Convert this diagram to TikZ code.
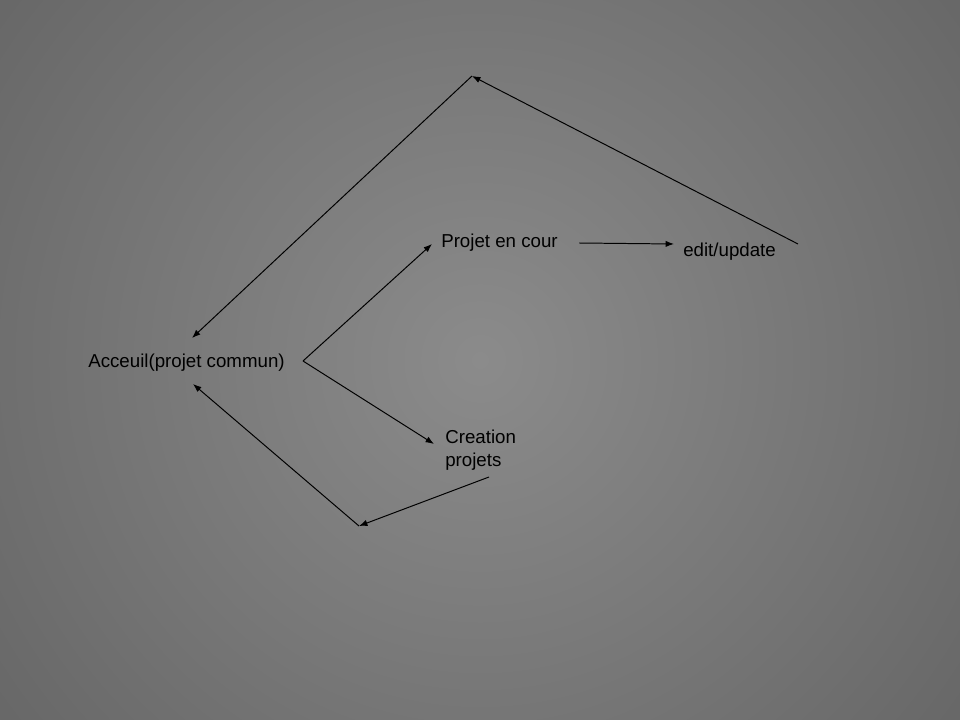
\documentclass[tikz,border=0pt]{standalone}
\usepackage{fontspec}
\setmainfont{Liberation Sans}
\usetikzlibrary{arrows.meta,positioning}
\definecolor{bg_inner}{HTML}{8B8B8B}
\definecolor{bg_outer}{HTML}{444444}
\pgfdeclareradialshading{bg_radial}{\pgfpoint{0bp}{0bp}}{color(0bp)=(bg_inner); color(50bp)=(bg_outer)}
\tikzset{
        % Page labels
        node_label/.style={inner sep=0pt, text=black, font=\fontsize{13.3}{16.4}\selectfont},
        % Links between pages
        edge_arrow/.style={draw=black, line width=0.7pt, -{Latex[length=6pt,width=4.5pt]}}
}

\begin{document}
\begin{tikzpicture}[x=0.025cm, y=-0.025cm]
            \useasboundingbox (0,0) rectangle (960,720);
            \begin{scope}
                \clip (0,0) rectangle (960,720);
                \shade[shading=bg_radial] (-120,-240) rectangle (1080,960);
            \end{scope}
            % pages
            \node[node_label, anchor=base west] (acceuil) at (88,368) {Acceuil(projet commun)};
            \node[node_label, anchor=base west] (encours) at (441,248) {Projet en cour};
            \node[node_label, anchor=base west] (edit) at (683,257) {edit/update};
            \node[node_label, anchor=base west, align=left] (creation) at (445,467) {Creation\\projets};
            % end points
            \coordinate (fork) at (303,361);
            \coordinate (encours_in) at (432,244);
            \coordinate (creation_in) at (434,444);
            \coordinate (encours_out) at (579,243);
            \coordinate (edit_in) at (674,244);
            \coordinate (edit_out) at (798,244);
            \coordinate (top_bend) at (472,76);
            \coordinate (acceuil_top) at (192,338);
            \coordinate (creation_out) at (489,477);
            \coordinate (bottom_bend) at (359,526);
            \coordinate (acceuil_bottom) at (193,384);
            % links
            \draw[edge_arrow] (fork) -- (encours_in);
            \draw[edge_arrow] (fork) -- (creation_in);
            \draw[edge_arrow] (encours_out) -- (edit_in);
            \draw[edge_arrow] (edit_out) -- (top_bend);
            \draw[edge_arrow] (top_bend) -- (acceuil_top);
            \draw[edge_arrow] (creation_out) -- (bottom_bend);
            \draw[edge_arrow] (bottom_bend) -- (acceuil_bottom);
        \end{tikzpicture}
\end{document}
